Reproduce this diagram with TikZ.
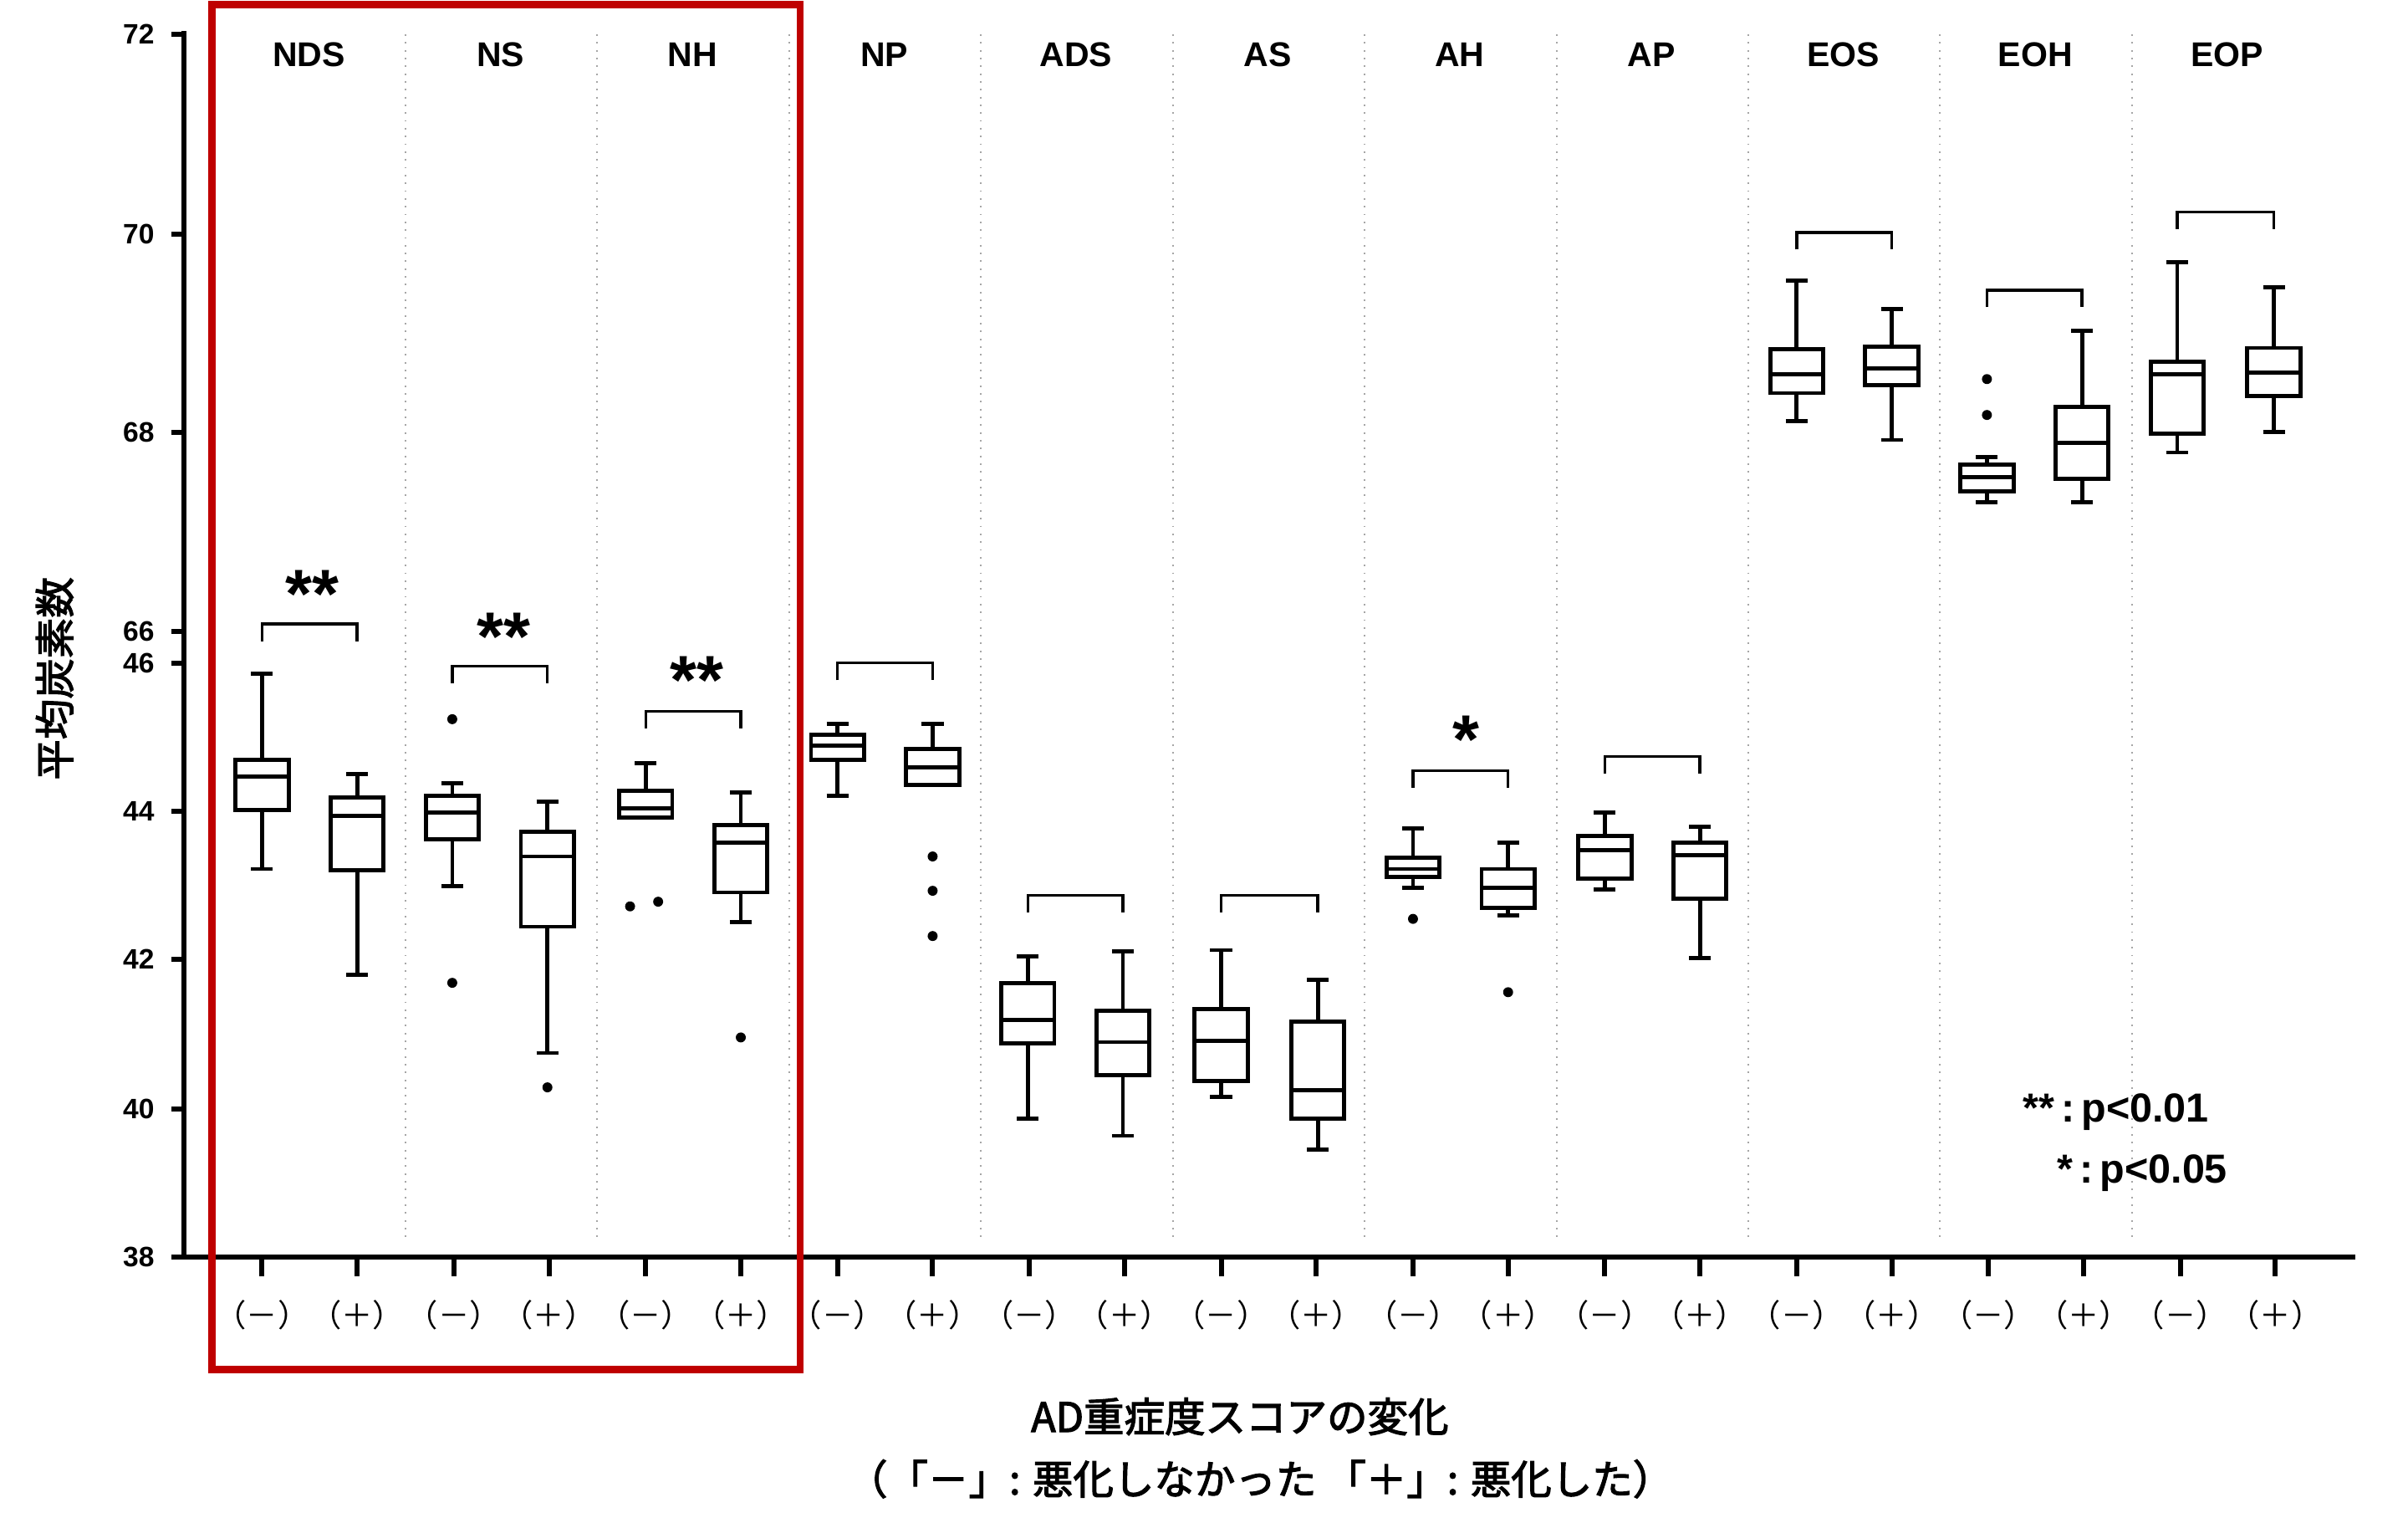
\documentclass[tikz,border=0pt]{standalone}
\usepackage{fontspec}
\setmainfont{Liberation Sans}
\newfontfamily\cjk[AutoFakeBold=2.5]{Noto Sans CJK JP}
\tikzset{
  ax/.style={line width=1.6pt},
  bxs/.style={line width=1.3pt},
  sep/.style={dotted,gray!70,line width=0.5pt},
  grp/.style={font=\bfseries\fontsize{11}{13}\selectfont},
  tl/.style={font=\bfseries\fontsize{9}{11}\selectfont,anchor=east},
  xl/.style={font=\cjk\fontsize{10}{12}\selectfont},
  star/.style={font=\bfseries\fontsize{22}{22}\selectfont},
}
\newcommand{\bxplot}[6]{% x max q3 med q1 min
  \draw[bxs] (#1,#2)--(#1,#3) (#1,#5)--(#1,#6) (#1-7,#2)--(#1+7,#2) (#1-7,#6)--(#1+7,#6);
  \draw[bxs,fill=white] (#1-17,#3) rectangle (#1+17,#5);
  \draw[bxs] (#1-17,#4)--(#1+17,#4);}
\newcommand{\brk}[3]{\draw[line width=0.9pt] (#1,#3+11)--(#1,#3)--(#2,#3)--(#2,#3+11);}
\newcommand{\dt}[2]{\fill (#1,#2) circle (3.2);}
\begin{document}
\begin{tikzpicture}[x=0.5pt,y=-0.5pt]
\useasboundingbox (0,0) rectangle (1544,973);
\foreach \s in {260,383,506,629,752,875,998,1121,1244,1367} \draw[sep] (\s,22)--(\s,795);
\draw[ax] (118,20)--(118,806)--(1510,806);
\foreach \y/\l in {22/72,150/70,277/68,405/66,425/46,520/44,615/42,711/40,806/38}{
  \draw[ax] (110,\y)--(118,\y); \node[tl] at (106,\y) {\l};}
\foreach \g in {0,...,10}{
  \draw[ax] (168+123*\g,806)--(168+123*\g,818);
  \draw[ax] (229+123*\g,806)--(229+123*\g,818);
  \node[xl] at (168+123*\g,843) {（－）};
  \node[xl] at (229+123*\g,843) {（＋）};}
\foreach \n [count=\i from 0] in {NDS,NS,NH,NP,ADS,AS,AH,AP,EOS,EOH,EOP}
  \node[grp] at (198+123*\i,35) {\n};
\bxplot{168}{432}{487}{498}{519}{557}
\bxplot{229}{496}{511}{523}{558}{625}
\bxplot{290}{502}{510}{521}{538}{568} \dt{290}{461}\dt{290}{630}
\bxplot{351}{514}{533}{549}{594}{675} \dt{351}{697}
\bxplot{414}{489}{507}{518}{524}{524} \dt{404}{581}\dt{422}{578}
\bxplot{475}{508}{529}{540}{572}{591} \dt{475}{665}
\bxplot{537}{464}{471}{478}{487}{510}
\bxplot{598}{464}{480}{492}{503}{503} \dt{598}{549}\dt{598}{571}\dt{598}{600}
\bxplot{659}{613}{630}{654}{669}{717}
\bxplot{720}{610}{648}{668}{689}{728}
\bxplot{783}{609}{647}{667}{693}{703}
\bxplot{845}{628}{655}{699}{717}{737}
\bxplot{906}{531}{550}{557}{562}{569} \dt{906}{589}
\bxplot{967}{540}{557}{569}{582}{587} \dt{967}{636}
\bxplot{1029}{521}{536}{545}{563}{570}
\bxplot{1090}{530}{540}{548}{576}{614}
\bxplot{1152}{180}{224}{240}{252}{270}
\bxplot{1213}{198}{222}{236}{247}{282}
\bxplot{1274}{293}{298}{306}{315}{322} \dt{1274}{243}\dt{1274}{266}
\bxplot{1335}{212}{261}{284}{307}{322}
\bxplot{1396}{168}{232}{240}{278}{290}
\bxplot{1458}{184}{223}{239}{254}{277}
\brk{168}{229}{400} \node[star] at (200,381) {**};
\brk{290}{351}{427} \node[star] at (323,408) {**};
\brk{414}{475}{456} \node[star] at (447,436) {**};
\brk{537}{598}{425}
\brk{659}{720}{574}
\brk{783}{845}{574}
\brk{906}{967}{494} \node[star] at (940,474) {*};
\brk{1029}{1090}{485}
\brk{1152}{1213}{149}
\brk{1274}{1335}{186}
\brk{1396}{1458}{136}
\node[font=\bfseries\fontsize{13}{15}\selectfont,anchor=west] at (1290,713) {**\,:\,p<0.01};
\node[font=\bfseries\fontsize{13}{15}\selectfont,anchor=west] at (1312,752) {*\,:\,p<0.05};
\draw[red!75!black,line width=2.3pt] (136,3) rectangle (513,878);
\node[font=\cjk\bfseries\fontsize{13}{15}\selectfont] at (795,908) {AD重症度スコアの変化};
\node[font=\cjk\bfseries\fontsize{13}{15}\selectfont] at (808,948) {（「－」: 悪化しなかった 「＋」: 悪化した）};
\node[font=\cjk\bfseries\fontsize{13}{15}\selectfont,rotate=90] at (35,435) {平均炭素数};
\end{tikzpicture}
\end{document}
